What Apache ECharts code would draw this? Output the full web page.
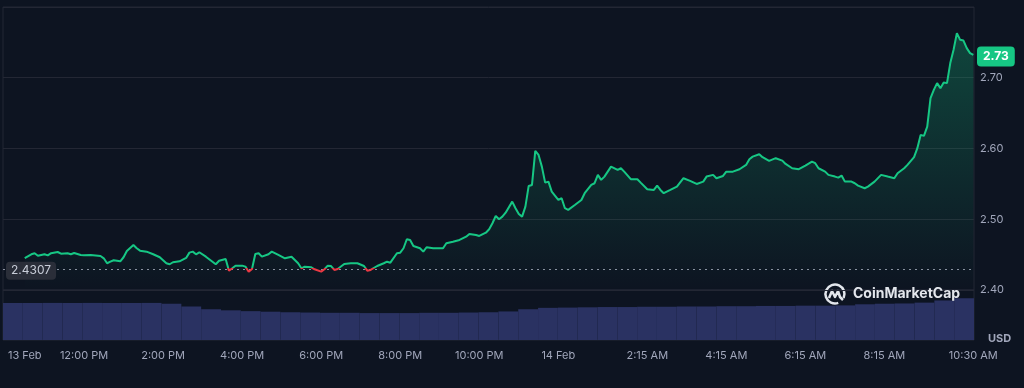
<!DOCTYPE html>
<html><head><meta charset="utf-8">
<script src="https://cdn.jsdelivr.net/npm/echarts@6/dist/echarts.min.js"></script>
<style>html,body{margin:0;padding:0;background:#0d1421;}#c{width:1024px;height:388px;}</style>
</head><body><div id="c"></div>
<script>
// minutes since 13 Feb 00:00
const times = [
630,640,645,650,660,665,670,680,685,695,
700,705,715,720,730,745,750,755,760,765,
775,780,785,795,800,805,815,825,835,845,
850,855,865,875,880,885,890,895,905,920,
925,935,940,945,950,960,965,970,975,980,
985,990,1000,1005,1015,1025,1035,1045,1050,1055,
1065,1070,1080,1085,1090,1095,1100,1105,1115,1125,
1135,1145,1150,1155,1165,1175,1180,1185,1195,1200,
1205,1210,1215,1220,1230,1235,1240,1250,1265,1270,
1280,1290,1300,1305,1315,1320,1330,1335,1340,1345,
1350,1355,1360,1370,1375,1380,1385,1390,1395,1400,
1405,1410,1415,1420,1425,1430,1440,1445,1450,1455,
1465,1475,1480,1490,1495,1500,1505,1510,1520,1530,
1535,1540,1550,1560,1565,1575,1585,1590,1595,1600,
1610,1620,1630,1640,1650,1660,1665,1675,1680,1690,
1695,1705,1715,1725,1730,1735,1745,1750,1760,1770,
1780,1785,1795,1805,1815,1825,1830,1835,1845,1850,
1860,1865,1870,1875,1885,1890,1895,1905,1910,1920,
1930,1940,1950,1955,1965,1970,1980,1985,1990,1995,
2000,2005,2010,2015,2020,2025,2030,2035,2040,2045,
2050,2055,2060,2065,2070];
const prices = [
2.445,2.4505,2.452,2.4485,2.4505,2.449,2.452,2.4537,2.4513,2.452,
2.4505,2.4523,2.4495,2.449,2.4495,2.448,2.4448,2.4378,2.44,2.442,
2.4406,2.4463,2.4552,2.4636,2.459,2.4556,2.4542,2.4505,2.4463,2.4378,
2.4364,2.4392,2.4406,2.4453,2.4528,2.4542,2.4505,2.4533,2.4471,2.4364,
2.4414,2.4438,2.4273,2.4307,2.4344,2.4344,2.433,2.4259,2.4297,2.4509,
2.4519,2.4471,2.4505,2.4542,2.4495,2.4448,2.4471,2.4378,2.4307,2.433,
2.4321,2.4293,2.4259,2.4293,2.4344,2.4339,2.4283,2.4297,2.4368,2.4378,
2.4378,2.4339,2.4273,2.4283,2.4339,2.4378,2.44,2.4386,2.4519,2.4528,
2.459,2.4717,2.4707,2.4622,2.459,2.4542,2.4604,2.459,2.459,2.4661,
2.4683,2.4707,2.4754,2.4792,2.4778,2.4764,2.481,2.4859,2.4943,2.5047,
2.5,2.5037,2.5093,2.5249,2.5156,2.5075,2.5037,2.5178,2.5471,2.5485,
2.5966,2.5909,2.5744,2.5518,2.5532,2.539,2.5273,2.5297,2.5156,2.5132,
2.5202,2.5273,2.5368,2.5485,2.5509,2.5627,2.5556,2.5603,2.5744,2.5697,
2.5721,2.5673,2.5566,2.5566,2.5518,2.5424,2.5414,2.5475,2.5414,2.5368,
2.5414,2.5461,2.558,2.5542,2.5499,2.5532,2.5603,2.5627,2.558,2.5612,
2.5673,2.5673,2.5707,2.5768,2.5849,2.5885,2.5919,2.5877,2.5825,2.5863,
2.5829,2.5782,2.5721,2.5707,2.5758,2.5815,2.5792,2.5721,2.5673,2.5627,
2.5603,2.5588,2.5617,2.5532,2.5532,2.5509,2.5475,2.5438,2.5461,2.5532,
2.5627,2.5603,2.558,2.5651,2.5721,2.5768,2.5877,2.6004,2.6192,2.6178,
2.631,2.6711,2.6829,2.6924,2.6853,2.6932,2.6924,2.7207,2.7395,2.7631,
2.7536,2.7526,2.7419,2.7348,2.7324];
// volume buckets (30 min, start minute since 13 Feb 00:00)
const volTimes = [
600,630,660,690,720,750,780,810,840,870,
900,930,960,990,1020,1050,1080,1110,1140,1170,
1200,1230,1260,1290,1320,1350,1380,1410,1440,1470,
1500,1530,1560,1590,1620,1650,1680,1710,1740,1770,
1800,1830,1860,1890,1920,1950,1980,2010,2040];
const volumes = [
6.73,6.73,6.75,6.73,6.75,6.73,6.73,6.75,6.6,6.1,
5.6,5.4,5.25,5.15,5.05,5.0,4.95,4.95,4.9,4.9,
4.9,4.95,4.95,5.0,5.05,5.2,5.6,5.85,5.9,5.95,
6.0,6.0,6.05,6.05,6.1,6.1,6.15,6.15,6.2,6.2,
6.25,6.25,6.3,6.5,6.6,6.65,6.8,7.2,7.6];
const tickMinutes = [630,720,840,960,1080,1200,1320,1440,1575,1695,1815,1935,2070];
const tickLabels = ['13 Feb','12:00 PM','2:00 PM','4:00 PM','6:00 PM','8:00 PM','10:00 PM','14 Feb','2:15 AM','4:15 AM','6:15 AM','8:15 AM','10:30 AM'];
const openPrice = 2.4307;
const currency = 'USD';
const brand = 'CoinMarketCap';

const chart = echarts.init(document.getElementById('c'), null, {renderer: 'canvas'});
const priceData = times.map((t, i) => [t, prices[i]]);
const lastPrice = prices[prices.length - 1];
const GREEN = '#16c784', RED = '#ea3943', GRID = '#232734', LABEL = '#a1a7bb';
const FONT = 'Inter, "Noto Sans", sans-serif';

const option = {
  backgroundColor: '#0d1421',
  animation: false,
  textStyle: {fontFamily: FONT},
  title: [
    {text: brand, left: 853, top: 287, padding: 0, textStyle: {color: '#e3e6ec', fontSize: 14, fontWeight: 'bold', fontFamily: FONT}},
    {text: currency, left: 988, top: 333, padding: 0, textStyle: {color: LABEL, fontSize: 11, fontWeight: 'bold', fontFamily: FONT}}
  ],
  graphic: [{
    type: 'group', left: 823, top: 282, silent: true, z: 10,
    children: [
      {type: 'arc', shape: {cx: 11, cy: 11, r: 9.5, startAngle: 70 * Math.PI / 180, endAngle: 385 * Math.PI / 180},
       style: {stroke: '#e3e6ec', lineWidth: 2.5, fill: null}},
      {type: 'polyline', shape: {points: [[5, 15], [8, 8], [11, 14], [14, 8], [16, 14], [19, 17]]},
       style: {stroke: '#e3e6ec', lineWidth: 2.5, fill: null, lineJoin: 'round'}}
    ]
  }],
  grid: [
    {left: 3, right: 50, top: 7, height: 283, show: true, borderColor: GRID, borderWidth: 1},
    {left: 3, right: 50, top: 290, height: 50, show: true, borderColor: GRID, borderWidth: 1}
  ],
  xAxis: [
    {type: 'value', gridIndex: 0, min: 597, max: 2071, show: false},
    {type: 'value', gridIndex: 1, min: 597, max: 2071,
     axisLine: {show: false}, axisTick: {show: false}, splitLine: {show: false},
     axisLabel: {customValues: tickMinutes, formatter: v => {const k = tickMinutes.indexOf(v); return k >= 0 ? tickLabels[k] : '';},
                 color: LABEL, fontSize: 11, margin: 10, fontFamily: FONT}},
    {type: 'category', gridIndex: 1, data: volTimes, show: false, boundaryGap: true}
  ],
  yAxis: [
    {type: 'value', gridIndex: 0, position: 'right', min: 2.4, max: 2.8, interval: 0.1,
     axisLine: {show: false}, axisTick: {show: false},
     splitLine: {lineStyle: {color: GRID}},
     axisLabel: {showMaxLabel: false, color: LABEL, fontSize: 11, margin: 6, fontFamily: FONT, formatter: v => v.toFixed(2)}},
    {type: 'value', gridIndex: 1, min: 0, max: 9.1, show: false}
  ],
  series: [
    {type: 'line', xAxisIndex: 0, yAxisIndex: 0, data: priceData, showSymbol: false, z: 5,
     lineStyle: {width: 2, color: GREEN},
     areaStyle: {origin: 'start', color: new echarts.graphic.LinearGradient(0, 0, 0, 1, [
        {offset: 0, color: 'rgba(22,199,132,0.40)'},
        {offset: 1, color: 'rgba(22,199,132,0)'}])},
     markLine: {silent: true, symbol: ['none', 'none'], animation: false,
       data: [
         {yAxis: openPrice,
          lineStyle: {type: [2, 4], color: '#8b91a1', width: 1},
          label: {show: true, position: 'insideStartTop', distance: [3, -2], verticalAlign: 'middle',
                  formatter: String(openPrice), color: '#c8cdd8', fontSize: 12, fontFamily: FONT,
                  backgroundColor: '#2a2e39', borderRadius: 4, padding: [3, 5]}},
         {yAxis: lastPrice,
          lineStyle: {color: 'rgba(0,0,0,0)', width: 0},
          label: {show: true, position: 'end', distance: 3, formatter: lastPrice.toFixed(2),
                  color: '#ffffff', fontWeight: 'bold', fontSize: 12, fontFamily: FONT,
                  backgroundColor: GREEN, borderRadius: 4, padding: [4, 6]}}
       ]}
    },
    {type: 'bar', xAxisIndex: 2, yAxisIndex: 1, data: volumes, barCategoryGap: '0%',
     itemStyle: {color: '#2a3262'}}
  ]
};
chart.setOption(option);

// colour the line red below the opening price, using the y scale of the chart
const yOpen = chart.convertToPixel({yAxisIndex: 0}, openPrice);
const H = chart.getHeight();
const f = yOpen / H;
chart.setOption({series: [{
  lineStyle: {color: new echarts.graphic.LinearGradient(0, 0, 0, H, [
    {offset: 0, color: GREEN}, {offset: f, color: GREEN},
    {offset: f, color: RED}, {offset: 1, color: RED}], true)}
}]});
</script></body></html>
